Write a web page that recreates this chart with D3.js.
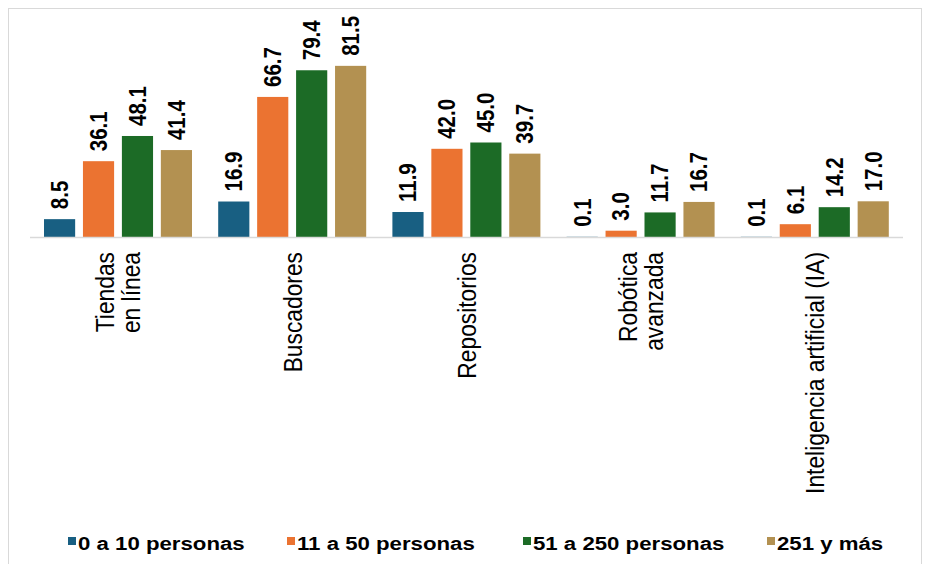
<!DOCTYPE html>
<html>
<head>
<meta charset="utf-8">
<script src="https://cdn.jsdelivr.net/npm/d3@7"></script>
<style>
  html, body { margin: 0; padding: 0; background: #fff; }
  svg { display: block; font-family: "Liberation Sans", Arial, sans-serif; }
</style>
</head>
<body>
<svg id="chart" width="929" height="564"></svg>
<script>
const categories = [["Tiendas", "en línea"], ["Buscadores"], ["Repositorios"], ["Robótica", "avanzada"], ["Inteligencia artificial (IA)"]];
const seriesNames = ["0 a 10 personas", "11 a 50 personas", "51 a 250 personas", "251 y más"];
const seriesColors = ["#185f82", "#eb7331", "#1c6b26", "#b39151"];
const values0to10 = [8.5, 16.9, 11.9, 0.1, 0.1];
const values11to50 = [36.1, 66.7, 42.0, 3.0, 6.1];
const values51to250 = [48.1, 79.4, 45.0, 11.7, 14.2];
const values251plus = [41.4, 81.5, 39.7, 16.7, 17.0];

const seriesValues = [values0to10, values11to50, values51to250, values251plus];
const catKeys = categories.map(c => c.join(" "));

// the picture is slightly wider than tall in its glyphs
const SX = 1.13;

const svg = d3.select("#chart");

// outer frame
svg.append("rect")
  .attr("x", 8.5).attr("y", 8.5).attr("width", 913).attr("height", 570)
  .attr("fill", "none").attr("stroke", "#d9d9d9").attr("stroke-width", 1);

const x0 = d3.scaleBand().domain(catKeys).range([31, 902]).paddingInner(0).paddingOuter(0);
const x1 = d3.scaleBand().domain(seriesNames).range([13, 161]).paddingInner(0.2).paddingOuter(0);
const y = d3.scaleLinear().domain([0, 100]).range([237, 27]);

// bars
const groups = svg.append("g").selectAll("g")
  .data(catKeys)
  .join("g")
  .attr("transform", d => `translate(${x0(d)},0)`);

groups.each(function(cat, ci) {
  const g = d3.select(this);
  const data = seriesNames.map((s, si) => ({ s, si, v: seriesValues[si][ci] }));
  g.selectAll("rect")
    .data(data)
    .join("rect")
    .attr("x", d => x1(d.s))
    .attr("y", d => y(d.v))
    .attr("width", x1.bandwidth())
    .attr("height", d => y(0) - y(d.v))
    .attr("fill", d => seriesColors[d.si]);

  g.selectAll("text.val")
    .data(data)
    .join("text")
    .attr("class", "val")
    .attr("transform", d => `translate(${x1(d.s) + x1.bandwidth() / 2},${y(d.v) - 10}) scale(${SX},1) rotate(-90)`)
    .attr("dy", "0.36em")
    .attr("text-anchor", "start")
    .attr("font-size", 20.5)
    .attr("font-weight", "bold")
    .attr("fill", "#000")
    .text(d => d.v.toFixed(1));
});

// axis baseline
const xAxis = d3.axisBottom(x0).tickSize(0).tickFormat("");
const axisG = svg.append("g").attr("transform", `translate(0,${y(0)})`).call(xAxis);
axisG.select(".domain").attr("stroke", "#d9d9d9").attr("stroke-width", 1.5).attr("d", "M30,0.5H903");

// category labels
categories.forEach((lines, ci) => {
  const cx = x0(catKeys[ci]) + x0.bandwidth() / 2;
  const n = lines.length;
  lines.forEach((line, li) => {
    const off = (li - (n - 1) / 2) * 26;
    svg.append("text")
      .attr("transform", `translate(${cx + off},252) scale(${SX},1) rotate(-90)`)
      .attr("dy", "0.36em")
      .attr("text-anchor", "end")
      .attr("font-size", 22.8)
      .attr("fill", "#000")
      .text(line);
  });
});

// legend
const legendX = [68, 287, 523, 767];
const legend = svg.append("g");
seriesNames.forEach((name, i) => {
  legend.append("rect")
    .attr("x", legendX[i]).attr("y", 537).attr("width", 8).attr("height", 8)
    .attr("fill", seriesColors[i]);
  legend.append("text")
    .attr("transform", `translate(${legendX[i] + 10},550) scale(1.17,1)`)
    .attr("font-size", 19)
    .attr("font-weight", "bold")
    .attr("fill", "#000")
    .text(name);
});
</script>
</body>
</html>
